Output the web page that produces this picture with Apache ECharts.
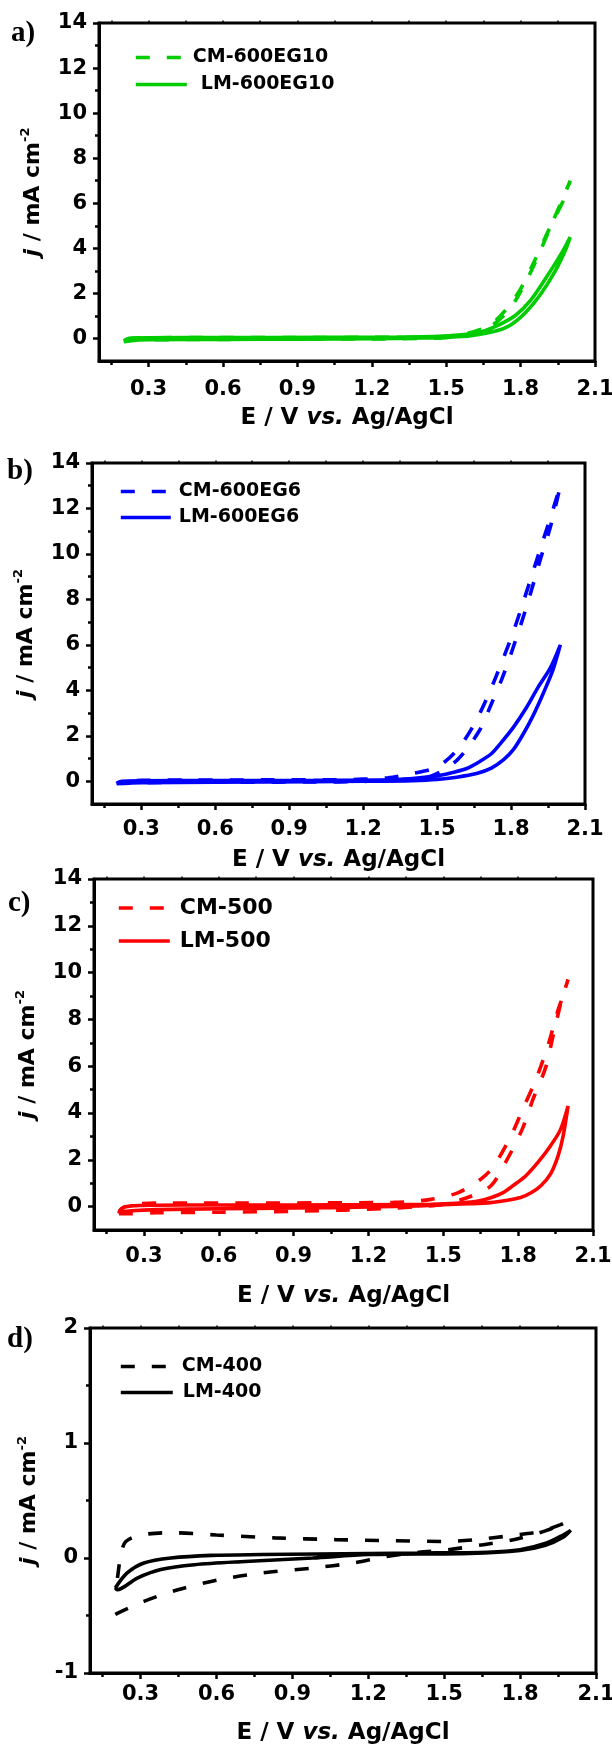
<!DOCTYPE html>
<html>
<head>
<meta charset="utf-8">
<script src="https://cdn.jsdelivr.net/npm/echarts@6/dist/echarts.min.js"></script>
<style>
html,body{margin:0;padding:0;background:#fff;}
#chart{width:612px;height:1746px;}
</style>
</head>
<body>
<div id="chart"></div>
<script>
// ---------- tick values ----------
const E_LABELS = [0.3, 0.6, 0.9, 1.2, 1.5, 1.8, 2.1];
const E_MINOR = [0.15, 0.45, 0.75, 1.05, 1.35, 1.65, 1.95];
const E_TOP = [0.15, 0.3, 0.45, 0.6, 0.75, 0.9, 1.05, 1.2, 1.35, 1.5, 1.65, 1.8, 1.95];
const J_LABELS_ABC = [0, 2, 4, 6, 8, 10, 12, 14];
const J_MINOR_ABC = [1, 3, 5, 7, 9, 11, 13];
const J_LABELS_D = [-1, 0, 1, 2];
const J_MINOR_D = [-0.5, 0.5, 1.5];

// ---------- data: [E (V vs Ag/AgCl), j (mA cm-2)] ----------
const cm600eg10 = [[0.2,-0.15],[0.25,-0.08],[0.4,-0.05],[0.6,-0.04],[0.9,-0.03],[1.2,-0.02],[1.4,0.0],[1.5,0.05],[1.6,0.2],[1.68,0.55],[1.73,1.0],[1.78,1.7],[1.83,2.7],[1.88,3.9],[1.93,5.2],[1.97,6.2],[2.0,7.0],
  [1.98,6.3],[1.94,5.4],[1.9,4.5],[1.85,3.3],[1.8,2.2],[1.75,1.4],[1.7,0.8],[1.65,0.45],[1.55,0.15],[1.4,0.06],[1.2,0.05],[0.9,0.04],[0.6,0.04],[0.3,0.03],[0.22,0.0],[0.2,-0.15]];
const lm600eg10 = [[0.2,-0.1],[0.3,-0.06],[0.6,-0.04],[0.9,-0.03],[1.2,-0.01],[1.4,0.02],[1.5,0.05],[1.6,0.12],[1.7,0.33],[1.76,0.6],[1.82,1.15],[1.88,1.95],[1.94,3.0],[1.98,3.9],[2.0,4.5],
  [1.967,3.82],[1.9,2.65],[1.84,1.69],[1.78,1.03],[1.71,0.59],[1.64,0.29],[1.51,0.12],[1.3,0.06],[1.0,0.05],[0.6,0.04],[0.3,0.03],[0.22,0.0],[0.2,-0.1]];

const cm600eg6 = [[0.2,-0.1],[0.25,-0.08],[0.4,-0.05],[0.7,-0.04],[1.0,-0.03],[1.2,-0.01],[1.35,0.08],[1.47,0.2],[1.58,0.92],[1.67,2.2],[1.72,3.4],[1.77,4.7],[1.84,6.9],[1.88,8.3],[1.92,9.8],[1.96,11.2],[2.0,13.0],
  [1.98,12.3],[1.96,11.6],[1.93,10.6],[1.89,9.25],[1.85,7.9],[1.81,6.6],[1.77,5.45],[1.71,3.85],[1.65,2.5],[1.58,1.36],[1.5,0.63],[1.4,0.34],[1.3,0.15],[1.1,0.07],[0.8,0.06],[0.5,0.05],[0.3,0.04],[0.22,0.0],[0.2,-0.1]];
const lm600eg6 = [[0.2,-0.1],[0.3,-0.06],[0.6,-0.04],[1.0,-0.02],[1.2,0.0],[1.4,0.03],[1.5,0.08],[1.58,0.18],[1.66,0.34],[1.72,0.58],[1.77,0.95],[1.81,1.4],[1.85,2.09],[1.89,2.9],[1.93,3.85],[1.97,4.9],[2.0,6.0],
  [1.96,5.0],[1.91,4.14],[1.86,3.2],[1.81,2.38],[1.76,1.7],[1.72,1.21],[1.67,0.85],[1.62,0.56],[1.56,0.38],[1.51,0.26],[1.4,0.12],[1.31,0.06],[1.0,0.04],[0.6,0.03],[0.3,0.02],[0.22,0.0],[0.2,-0.1]];

const cm500 = [[0.2,-0.3],[0.25,-0.3],[0.35,-0.26],[0.6,-0.24],[0.9,-0.2],[1.1,-0.15],[1.3,-0.07],[1.4,0.0],[1.5,0.1],[1.6,0.4],[1.69,0.88],[1.75,1.9],[1.816,3.3],[1.86,4.6],[1.91,5.94],[1.94,7.3],[1.97,8.65],[2.0,9.7],
  [1.98,9.0],[1.96,8.4],[1.92,6.9],[1.87,5.4],[1.82,4.2],[1.77,3.0],[1.7,1.7],[1.65,1.17],[1.56,0.6],[1.45,0.31],[1.3,0.18],[1.0,0.16],[0.7,0.15],[0.4,0.15],[0.25,0.1],[0.21,-0.1],[0.2,-0.3]];
const lm500 = [[0.2,-0.25],[0.25,-0.18],[0.35,-0.13],[0.6,-0.09],[0.9,-0.06],[1.2,-0.02],[1.4,0.03],[1.5,0.08],[1.6,0.12],[1.69,0.17],[1.75,0.26],[1.81,0.39],[1.85,0.58],[1.89,0.88],[1.93,1.4],[1.96,2.17],[1.98,3.0],[2.0,4.3],
  [1.97,3.3],[1.93,2.6],[1.88,1.9],[1.83,1.31],[1.78,0.9],[1.74,0.6],[1.69,0.38],[1.64,0.24],[1.55,0.14],[1.45,0.1],[1.2,0.08],[0.9,0.07],[0.6,0.07],[0.35,0.06],[0.25,0.03],[0.21,-0.08],[0.2,-0.25]];

const cm400 = [[0.2,-0.49],[0.313,-0.377],[0.447,-0.276],[0.607,-0.19],[0.78,-0.13],[0.98,-0.087],[1.14,-0.043],[1.265,0.01],[1.4,0.05],[1.51,0.07],[1.655,0.116],[1.787,0.165],[1.905,0.24],[1.98,0.31],
  [1.96,0.29],[1.88,0.23],[1.76,0.194],[1.628,0.16],[1.496,0.144],[1.3,0.15],[1.07,0.16],[0.83,0.175],[0.6,0.2],[0.42,0.22],[0.3,0.2],[0.24,0.14],[0.22,0.0],[0.21,-0.15],[0.2,-0.3]];
const lm400 = [[0.2,-0.26],[0.247,-0.13],[0.313,-0.043],[0.42,0.0],[0.58,0.023],[0.78,0.03],[1.0,0.035],[1.4,0.043],[1.67,0.05],[1.8,0.072],[1.905,0.13],[1.97,0.2],[2.0,0.24],
  [1.97,0.18],[1.9,0.11],[1.8,0.065],[1.6,0.04],[1.2,0.03],[0.98,0.0],[0.713,-0.03],[0.513,-0.058],[0.38,-0.1],[0.287,-0.174],[0.207,-0.276],[0.2,-0.26]];

// ---------- layout / style ----------
const FONT = 'DejaVu Sans';
const DASH = [14, 17];
const LW = 3.6;
const panels = [
  { tag:'a)', tagPos:[11,19], grid:{left:99, top:23, width:496, height:338}, y:[-1,14], yLabels:J_LABELS_ABC, yMinor:J_MINOR_ABC,
    color:'#00cc00', labelMargin:18, xNameGap:46, yNameGap:48, legendFont:19,
    series:[{name:'CM-600EG10', data:cm600eg10, dashed:true, lg:{left:134, cy:58, w:47, pad:5}},
            {name:'LM-600EG10', data:lm600eg10, dashed:false, lg:{left:134, cy:85, w:51, pad:9}}] },
  { tag:'b)', tagPos:[7,457], grid:{left:92, top:463, width:493, height:341}, y:[-1,14], yLabels:J_LABELS_ABC, yMinor:J_MINOR_ABC,
    color:'#0000ff', labelMargin:15, xNameGap:45, yNameGap:43, legendFont:19,
    series:[{name:'CM-600EG6', data:cm600eg6, dashed:true, lg:{left:119, cy:492, w:45, pad:8}},
            {name:'LM-600EG6', data:lm600eg6, dashed:false, lg:{left:119, cy:518, w:50, pad:3}}] },
  { tag:'c)', tagPos:[8,889], grid:{left:94, top:879, width:499, height:351}, y:[-1,14], yLabels:J_LABELS_ABC, yMinor:J_MINOR_ABC,
    color:'#ff0000', labelMargin:16, xNameGap:55, yNameGap:42, legendFont:22,
    series:[{name:'CM-500', data:cm500, dashed:true, lg:{left:117, cy:907, w:47, pad:9}},
            {name:'LM-500', data:lm500, dashed:false, lg:{left:117, cy:940, w:51, pad:5}}] },
  { tag:'d)', tagPos:[7,1325], grid:{left:90, top:1328, width:506, height:345}, y:[-1,2], yLabels:J_LABELS_D, yMinor:J_MINOR_D,
    color:'#000000', labelMargin:11, xNameGap:49, yNameGap:32, legendFont:19,
    series:[{name:'CM-400', data:cm400, dashed:true, lg:{left:119, cy:1367, w:49, pad:7}},
            {name:'LM-400', data:lm400, dashed:false, lg:{left:119, cy:1393, w:52, pad:5}}] }
];

const grids = [], xAxes = [], yAxes = [], series = [], legends = [], graphics = [];
const labelStyle = {fontFamily:FONT, fontWeight:'bold', fontSize:21, color:'#000'};

panels.forEach((p, i) => {
  grids.push(Object.assign({show:true, borderWidth:3, borderColor:'#000', backgroundColor:'transparent', containLabel:false, outerBoundsMode:'none'}, p.grid));
  const xBase = {type:'value', gridIndex:i, min:0.1, max:2.1, splitLine:{show:false}};
  xAxes.push(Object.assign({}, xBase, {
    position:'bottom',
    axisLine:{show:true, onZero:false, lineStyle:{color:'#000', width:3}},
    axisTick:{show:true, inside:false, length:6, customValues:E_LABELS, lineStyle:{color:'#000', width:2.5}},
    axisLabel:Object.assign({show:true, margin:p.labelMargin, customValues:E_LABELS}, labelStyle),
    name:'E / V {i|vs.} Ag/AgCl', nameLocation:'middle', nameGap:p.xNameGap,
    nameTextStyle:{fontFamily:FONT, fontWeight:'bold', fontSize:23, color:'#000',
      rich:{i:{fontFamily:FONT, fontWeight:'bold', fontStyle:'italic', fontSize:23, color:'#000'}}}
  }));
  xAxes.push(Object.assign({}, xBase, {
    position:'bottom',
    axisLine:{show:false, onZero:false},
    axisTick:{show:true, inside:false, length:4, customValues:E_MINOR, lineStyle:{color:'#000', width:2.5}},
    axisLabel:{show:false}
  }));
  xAxes.push(Object.assign({}, xBase, {
    position:'top',
    axisLine:{show:false, onZero:false},
    axisTick:{show:true, inside:false, length:2.5, customValues:E_TOP, lineStyle:{color:'#000', width:1.5}},
    axisLabel:{show:false}
  }));
  const yBase = {type:'value', gridIndex:i, min:p.y[0], max:p.y[1], position:'left', splitLine:{show:false}};
  yAxes.push(Object.assign({}, yBase, {
    axisLine:{show:true, onZero:false, lineStyle:{color:'#000', width:3}},
    axisTick:{show:true, inside:false, length:6, customValues:p.yLabels, lineStyle:{color:'#000', width:2.5}},
    axisLabel:Object.assign({show:true, margin:12, customValues:p.yLabels}, labelStyle),
    name:'{i|j} / mA cm{s|-2}', nameLocation:'middle', nameRotate:90, nameGap:p.yNameGap,
    nameTextStyle:{fontFamily:FONT, fontWeight:'bold', fontSize:22, color:'#000', lineHeight:28,
      rich:{
        i:{fontFamily:FONT, fontWeight:'bold', fontStyle:'italic', fontSize:22, color:'#000', lineHeight:28},
        s:{fontFamily:FONT, fontWeight:'bold', fontSize:13, color:'#000', lineHeight:14, verticalAlign:'top'}
      }}
  }));
  yAxes.push(Object.assign({}, yBase, {
    axisLine:{show:false, onZero:false},
    axisTick:{show:true, inside:false, length:4, customValues:p.yMinor, lineStyle:{color:'#000', width:2.5}},
    axisLabel:{show:false}
  }));
  p.series.forEach(s => {
    const ls = {color:p.color, width:LW, type:s.dashed ? DASH : 'solid'};
    series.push({
      name:s.name, type:'line', xAxisIndex:3*i, yAxisIndex:2*i, data:s.data,
      showSymbol:false, symbol:'none', smooth:0.3, animation:false,
      lineStyle:ls, itemStyle:{color:p.color}
    });
    legends.push({
      data:[s.name], orient:'vertical', left:s.lg.left, top:s.lg.cy - 10, padding:0,
      itemWidth:s.lg.w, itemHeight:20, selectedMode:false,
      itemStyle:{opacity:0, borderWidth:0},
      lineStyle:{color:p.color, width:LW, type:s.dashed ? DASH : 'solid', opacity:1},
      textStyle:{fontFamily:FONT, fontWeight:'bold', fontSize:p.legendFont, color:'#000', padding:[0,0,0,s.lg.pad]}
    });
  });
  graphics.push({type:'text', left:p.tagPos[0], top:p.tagPos[1],
    style:{text:p.tag, font:'bold 29px "Liberation Serif"', fill:'#000'}});
});

const chart = echarts.init(document.getElementById('chart'), null, {renderer:'canvas'});
chart.setOption({
  backgroundColor:'#fff',
  animation:false,
  grid:grids, xAxis:xAxes, yAxis:yAxes, series:series, legend:legends, graphic:graphics
});
</script>
</body>
</html>
